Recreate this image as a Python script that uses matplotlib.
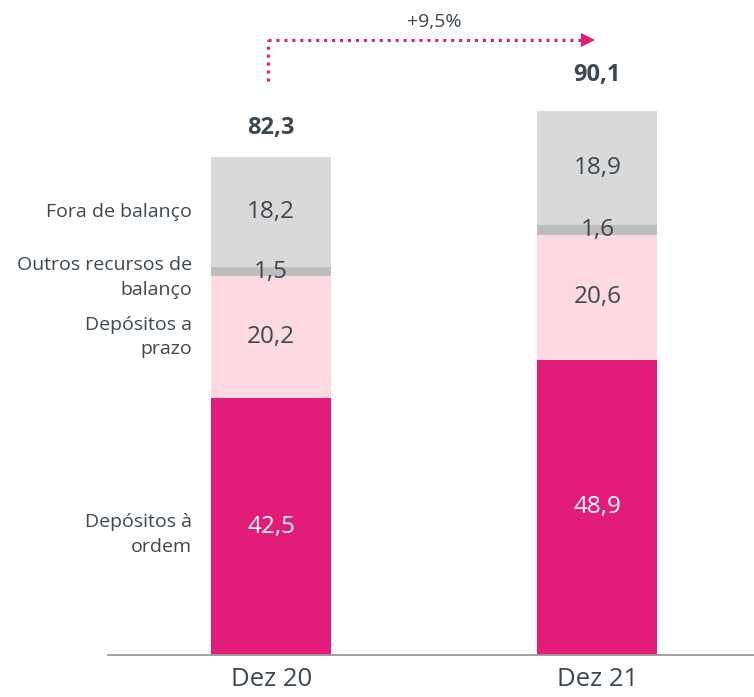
import numpy as np
import matplotlib
matplotlib.use("Agg")
import matplotlib.pyplot as plt

plt.rcParams['font.family'] = ['Open Sans', 'DejaVu Sans']

# data
periods = ["Dez 20", "Dez 21"]
segments = ["Depósitos à\nordem", "Depósitos a\nprazo", "Outros recursos de\nbalanço", "Fora de balanço"]
ordem = [42.5, 48.9]
prazo = [20.2, 20.6]
outros = [1.5, 1.6]
fora = [18.2, 18.9]
totals = [82.3, 90.1]
growth_label = "+9,5%"

colors = ["#E31C79", "#FDD9E1", "#BDBDBD", "#D9D9D9"]
text_dark = "#3D474F"

fig = plt.figure(figsize=(7.54, 6.97), dpi=100)
W, H = 754, 697
ax = fig.add_axes([108 / W, (H - 655) / H, 1 - 108 / W, 655 / H])

x = np.arange(len(periods))
width = 0.368
series = [ordem, prazo, outros, fora]
bottom = np.zeros(len(periods))
for vals, col in zip(series, colors):
    ax.bar(x, vals, width, bottom=bottom, color=col, linewidth=0)
    for i, v in enumerate(vals):
        ax.text(x[i], bottom[i] + v / 2, f"{v:.1f}".replace(".", ","),
                ha="center", va="center", fontsize=17.5,
                color="white" if col == colors[0] else text_dark)
    bottom += vals

# totals
for i, t in enumerate(totals):
    ax.annotate(f"{t:.1f}".replace(".", ","), (x[i], t), xytext=(0, 13 + 4 * i),
                textcoords="offset points", ha="center", va="bottom",
                fontsize=17, fontweight="bold", color=text_dark)

# left side segment labels (aligned to first bar)
seg_y = [ordem[0] / 2 - 1.3,
         ordem[0] + prazo[0] / 2,
         ordem[0] + prazo[0] + outros[0] / 2 - 1.0,
         ordem[0] + prazo[0] + outros[0] + fora[0] / 2]
for lab, yy in zip(segments, seg_y):
    ax.text(-0.242, yy, lab, ha="right", va="center", fontsize=14,
            color=text_dark, linespacing=1.45)

# growth arrow
y_lo, y_hi = 95.0, 101.7
ax.plot([-0.01, -0.01], [y_lo, y_hi], color=colors[0], lw=2.2,
        linestyle=(0, (1, 1.6)))
ax.plot([-0.01, 0.955], [y_hi, y_hi], color=colors[0], lw=2.2,
        linestyle=(0, (1, 1.6)))
ax.plot([0.97], [y_hi], marker=">", color=colors[0], markersize=10,
        markeredgewidth=0)
ax.text(0.5, y_hi + 1.5, growth_label, ha="center", va="bottom",
        fontsize=14, color=text_dark)

ax.set_xlim(-0.5, 1.48)
ax.set_ylim(0, 108.4)
ax.set_xticks(x)
ax.set_xticklabels(periods, fontsize=18.5, color=text_dark)
ax.tick_params(axis="x", length=0, pad=9)
ax.set_yticks([])
for s in ["top", "right", "left"]:
    ax.spines[s].set_visible(False)
ax.spines["bottom"].set_color("#9A9A9A")
ax.spines["bottom"].set_linewidth(1.3)
ax.patch.set_alpha(0)

fig.savefig("out.png", dpi=100)
